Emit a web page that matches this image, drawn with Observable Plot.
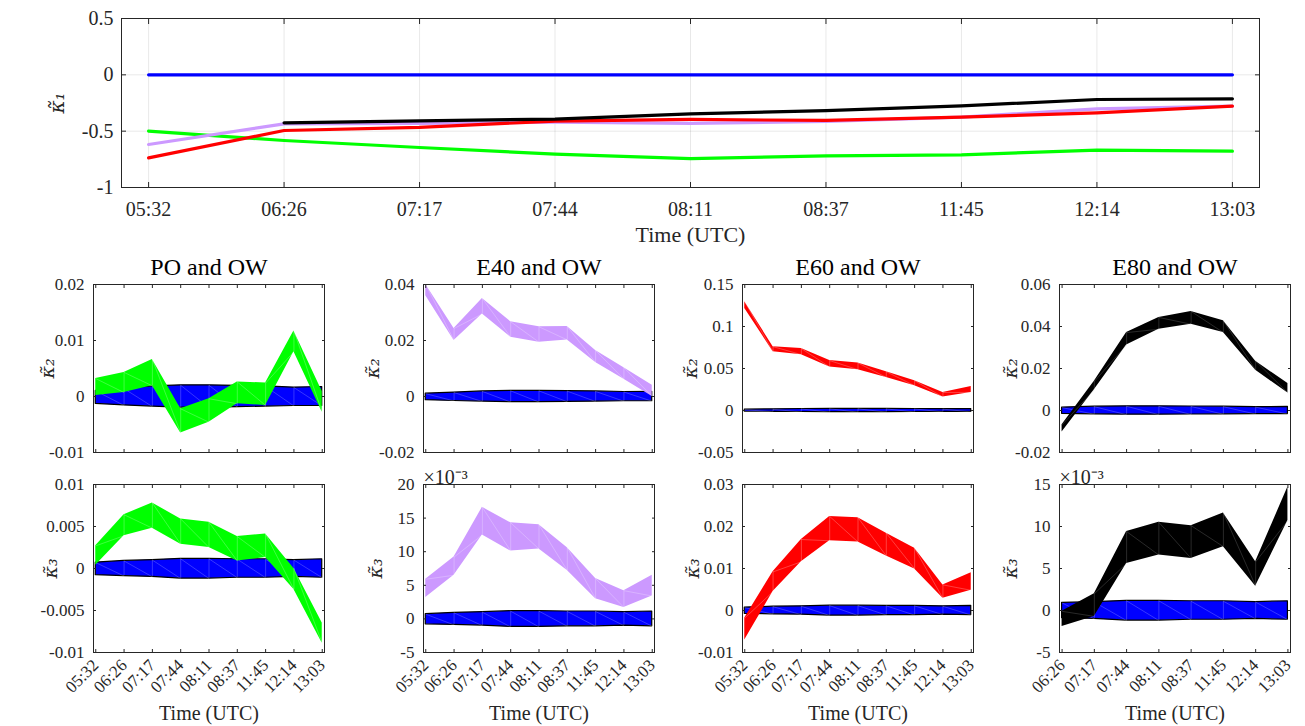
<!DOCTYPE html>
<html><head><meta charset="utf-8">
<script src="https://cdn.jsdelivr.net/npm/d3@7"></script>
<script src="https://cdn.jsdelivr.net/npm/@observablehq/plot@0.6"></script>
<style>
body{margin:0;background:#fff;}
#fig{position:relative;width:1305px;height:726px;overflow:hidden;background:#fff;}
.p{position:absolute;}
.p svg{overflow:visible;font-family:"Liberation Serif","Times New Roman",serif !important;}
.p svg text{font-family:"Liberation Serif","Times New Roman",serif !important;}
</style></head><body><div id="fig"></div>
<script>
// ---------- data ----------
const times = ["05:32","06:26","07:17","07:44","08:11","08:37","11:45","12:14","13:03"];
const timesE80 = ["06:26","07:17","07:44","08:11","08:37","11:45","12:14","13:03"];

// top panel: kappa_1
const k1Ticks = [-1, -0.5, 0, 0.5];
const k1_OW  = [0, 0, 0, 0, 0, 0, 0, 0, 0];
const k1_PO  = [-0.500, -0.583, -0.645, -0.704, -0.743, -0.719, -0.710, -0.669, -0.678];
const k1_E40 = [-0.618, -0.435, -0.430, -0.420, -0.430, -0.414, -0.376, -0.302, -0.278];
const k1_E60 = [-0.737, -0.494, -0.467, -0.410, -0.396, -0.405, -0.376, -0.337, -0.278];
const k1_E80 = [null, -0.426, -0.408, -0.393, -0.346, -0.317, -0.275, -0.219, -0.213];

// OW reference bands
const owK2Lo = [-0.0013, -0.0016, -0.0018, -0.0020, -0.0020, -0.0019, -0.0018, -0.0017, -0.0017];
const owK2Hi = [ 0.0010,  0.0014,  0.0018,  0.0020,  0.0020,  0.0019,  0.0018,  0.0016,  0.0017];
const owK3Lo = [-0.0008, -0.0009, -0.0010, -0.0012, -0.0012, -0.0011, -0.0011, -0.0010, -0.0011];
const owK3Hi = [ 0.0007,  0.0009,  0.0010,  0.00115, 0.00115, 0.0011,  0.0011,  0.0010,  0.0011];

// PO
const poK2Lo = [0.0002, 0.0007, 0.0019, -0.0065, -0.0046, -0.0013, -0.0016, 0.0080, -0.0028];
const poK2Hi = [0.0032, 0.0043, 0.0066, -0.0022, -0.0004,  0.0026,  0.0024, 0.0117,  0.0009];
const poK3Lo = [0.0004, 0.0039, 0.0048, 0.0029, 0.0025, 0.0009, 0.0013, -0.0025, -0.0089];
const poK3Hi = [0.0027, 0.0064, 0.0078, 0.0059, 0.0055, 0.0038, 0.0041,  0.0000, -0.0065];
// E40
const e40K2Lo = [0.0360, 0.0200, 0.0295, 0.0212, 0.0194, 0.0202, 0.0121, 0.0062, 0.0000];
const e40K2Hi = [0.0400, 0.0243, 0.0350, 0.0267, 0.0249, 0.0250, 0.0164, 0.0103, 0.0040];
const e40K3Lo = [0.0032, 0.0065, 0.0125, 0.0101, 0.0104, 0.0072, 0.0030, 0.0017, 0.0034];
const e40K3Hi = [0.0059, 0.0092, 0.0166, 0.0143, 0.0140, 0.0106, 0.0060, 0.0042, 0.0065];
// E60
const e60K2Lo = [0.1215, 0.0700, 0.0665, 0.0518, 0.0486, 0.0394, 0.0295, 0.0160, 0.0215];
const e60K2Hi = [0.1294, 0.0760, 0.0737, 0.0594, 0.0566, 0.0462, 0.0355, 0.0215, 0.0287];
const e60K3Lo = [-0.0070, 0.0045, 0.0116, 0.0166, 0.0163, 0.0130, 0.0099, 0.0029, 0.0048];
const e60K3Hi = [-0.0018, 0.0092, 0.0169, 0.0224, 0.0221, 0.0184, 0.0148, 0.0061, 0.0090];
// E80 (from 06:26)
const e80K2Lo = [-0.0102, 0.0099, 0.0312, 0.0387, 0.0411, 0.0371, 0.0192, 0.0083];
const e80K2Hi = [-0.0068, 0.0139, 0.0371, 0.0443, 0.0472, 0.0427, 0.0235, 0.0128];
const e80K3Lo = [-0.0019, -0.0007, 0.0056, 0.0066, 0.0062, 0.0076, 0.0029, 0.0107];
const e80K3Hi = [-0.0001,  0.0020, 0.0094, 0.0105, 0.0101, 0.0116, 0.0058, 0.0147];

// tick values
const tPOk2 = [-0.01, 0, 0.01, 0.02];
const tE40k2 = [-0.02, 0, 0.02, 0.04];
const tE60k2 = [-0.05, 0, 0.05, 0.1, 0.15];
const tE80k2 = [-0.02, 0, 0.02, 0.04, 0.06];
const tPOk3 = [-0.01, -0.005, 0, 0.005, 0.01];
const tE40k3 = [-0.005, 0, 0.005, 0.01, 0.015, 0.02];
const tE60k3 = [-0.01, 0, 0.01, 0.02, 0.03];
const tE80k3 = [-0.005, 0, 0.005, 0.01, 0.015];

const titles = ["PO and OW", "E40 and OW", "E60 and OW", "E80 and OW"];

// ---------- drawing ----------
const fig = document.getElementById("fig");
const AX = "#262626";
const fmt = d => String(+(+d).toFixed(6));
const fmtE3 = d => String(Math.round(d * 1000));
const blank = () => "";

function place(svg, left, top) {
  // kappa labels: a font with proper combining-mark placement
  svg.querySelectorAll("text").forEach(t => {
    if (t.textContent.includes("κ")) {
      t.style.setProperty("font-family", "'DejaVu Serif'", "important");
      t.style.setProperty("font-style", "italic");
    }
  });
  const d = document.createElement("div");
  d.className = "p";
  d.style.left = left + "px";
  d.style.top = top + "px";
  d.appendChild(svg);
  fig.appendChild(d);
}

// top panel
{
  const ml = 90, mr = 20, mt = 12, mb = 65, W = 1138, H = 169;
  const idx = d3.range(times.length);
  const series = [[k1_OW, "#0000ff"], [k1_PO, "#00ff00"], [k1_E40, "#cc99ff"], [k1_E60, "#ff0000"], [k1_E80, "#000000"]];
  const svg = Plot.plot({
    width: W + ml + mr, height: H + mt + mb,
    marginLeft: ml, marginRight: mr, marginTop: mt, marginBottom: mb,
    x: {domain: [-0.2, 8.2]},
    y: {domain: [-1, 0.5]},
    style: {fontSize: "20px", color: AX, background: "transparent"},
    marks: [
      Plot.gridX(idx, {x: d => d, stroke: "#000", strokeOpacity: 0.09}),
      Plot.gridY(k1Ticks, {y: d => d, stroke: "#000", strokeOpacity: 0.09}),
      ...series.map(([arr, c]) => Plot.line(idx, {x: i => i, y: i => arr[i], stroke: c, strokeWidth: 3.2})),
      Plot.frame({stroke: AX}),
      Plot.axisY(k1Ticks, {anchor: "left", tickSize: -5, tickPadding: 13, tickFormat: fmt, label: null, fontSize: 20}),
      Plot.axisY(k1Ticks, {anchor: "right", tickSize: -5, tickFormat: blank, label: null}),
      Plot.axisX(idx, {anchor: "bottom", tickSize: -5, tickPadding: 19, tickFormat: i => times[i], label: null, fontSize: 20}),
      Plot.axisX(idx, {anchor: "top", tickSize: -5, tickFormat: blank, label: null}),
      Plot.text(["κ̃₁"], {frameAnchor: "left", text: d => d, rotate: -90, textAnchor: "middle", lineAnchor: "middle", dx: -64, fontSize: 20}),
      Plot.text(["Time (UTC)"], {frameAnchor: "bottom", text: d => d, textAnchor: "middle", lineAnchor: "middle", dy: 47, fontSize: 22})
    ]
  });
  place(svg, 121 - ml, 18 - mt);
}

// small panels
const colLeft = [93, 423, 742, 1059];
const rowTop = [284, 484];
const panels = [
  {row: 0, col: 0, lo: poK2Lo, hi: poK2Hi, owLo: owK2Lo, owHi: owK2Hi, color: "#00ff00", tri: "#ffffff", yDomain: [-0.01, 0.02], ticks: tPOk2, f: fmt, ylab: "κ̃₂", ylx: -46, labels: times},
  {row: 0, col: 1, lo: e40K2Lo, hi: e40K2Hi, owLo: owK2Lo, owHi: owK2Hi, color: "#cc99ff", tri: "#ffffff", yDomain: [-0.02, 0.04], ticks: tE40k2, f: fmt, ylab: "κ̃₂", ylx: -51, labels: times},
  {row: 0, col: 2, lo: e60K2Lo, hi: e60K2Hi, owLo: owK2Lo, owHi: owK2Hi, color: "#ff0000", tri: "#ffffff", yDomain: [-0.05, 0.15], ticks: tE60k2, f: fmt, ylab: "κ̃₂", ylx: -52, labels: times},
  {row: 0, col: 3, lo: e80K2Lo, hi: e80K2Hi, owLo: owK2Lo.slice(1), owHi: owK2Hi.slice(1), color: "#000000", tri: "#aaaaaa", yDomain: [-0.02, 0.06], ticks: tE80k2, f: fmt, ylab: "κ̃₂", ylx: -49, labels: timesE80},
  {row: 1, col: 0, lo: poK3Lo, hi: poK3Hi, owLo: owK3Lo, owHi: owK3Hi, color: "#00ff00", tri: "#ffffff", yDomain: [-0.01, 0.01], ticks: tPOk3, f: fmt, ylab: "κ̃₃", ylx: -43, labels: times},
  {row: 1, col: 1, lo: e40K3Lo, hi: e40K3Hi, owLo: owK3Lo, owHi: owK3Hi, color: "#cc99ff", tri: "#ffffff", yDomain: [-0.005, 0.02], ticks: tE40k3, f: fmtE3, sci: true, ylab: "κ̃₃", ylx: -48, labels: times},
  {row: 1, col: 2, lo: e60K3Lo, hi: e60K3Hi, owLo: owK3Lo, owHi: owK3Hi, color: "#ff0000", tri: "#ffffff", yDomain: [-0.01, 0.03], ticks: tE60k3, f: fmt, ylab: "κ̃₃", ylx: -50, labels: times},
  {row: 1, col: 3, lo: e80K3Lo, hi: e80K3Hi, owLo: owK3Lo.slice(1), owHi: owK3Hi.slice(1), color: "#000000", tri: "#aaaaaa", yDomain: [-0.005, 0.015], ticks: tE80k3, f: fmtE3, sci: true, ylab: "κ̃₃", ylx: -49, labels: timesE80}
];

for (const p of panels) {
  const W = 231, H = 168;
  const ml = 75, mr = 12, mt = p.row === 0 ? 42 : 30, mb = p.row === 1 ? 90 : 12;
  const n = p.labels.length;
  const idx = d3.range(n);
  const tri = (lo, hi, stroke, op) => [
    Plot.ruleX(idx.slice(1, -1), {x: i => i, y1: i => lo[i], y2: i => hi[i], stroke, strokeOpacity: op, strokeWidth: 0.7, clip: true}),
    Plot.link(idx.slice(0, -1), {x1: i => i, y1: i => hi[i], x2: i => i + 1, y2: i => lo[i + 1], stroke, strokeOpacity: op, strokeWidth: 0.7, clip: true})
  ];
  const marks = [
    Plot.areaY(idx, {x: i => i, y1: i => p.owLo[i], y2: i => p.owHi[i], fill: "#0000ff", stroke: "#000", strokeWidth: 1.2, clip: true}),
    ...tri(p.owLo, p.owHi, "#ffffff", 0.3),
    Plot.areaY(idx, {x: i => i, y1: i => p.lo[i], y2: i => p.hi[i], fill: p.color, clip: true}),
    ...tri(p.lo, p.hi, p.tri, 0.35),
    Plot.frame({stroke: AX}),
    Plot.axisY(p.ticks, {anchor: "left", tickSize: -3, tickPadding: 12, tickFormat: p.f, label: null, fontSize: 17}),
    Plot.axisY(p.ticks, {anchor: "right", tickSize: -3, tickFormat: blank, label: null}),
    Plot.axisX(idx, {anchor: "bottom", tickSize: -3, tickPadding: p.row === 1 ? 13 : 3, tickRotate: p.row === 1 ? -45 : 0,
      tickFormat: p.row === 1 ? (i => p.labels[i]) : blank, label: null, fontSize: 17}),
    Plot.axisX(idx, {anchor: "top", tickSize: -3, tickFormat: blank, label: null}),
    Plot.text([p.ylab], {frameAnchor: "left", text: d => d, rotate: -90, textAnchor: "middle", lineAnchor: "middle", dx: p.ylx, fontSize: 19})
  ];
  if (p.row === 0) marks.push(Plot.text([titles[p.col]], {frameAnchor: "top", text: d => d, textAnchor: "middle", lineAnchor: "middle", dy: -17, fontSize: 24, fill: "#000"}));
  if (p.row === 1) marks.push(Plot.text(["Time (UTC)"], {frameAnchor: "bottom", text: d => d, textAnchor: "middle", lineAnchor: "middle", dy: 61, fontSize: 20}));
  if (p.sci) marks.push(Plot.text(["×10⁻³"], {frameAnchor: "top-left", text: d => d, textAnchor: "start", lineAnchor: "bottom", dy: -1, fontSize: 20}));
  const svg = Plot.plot({
    width: W + ml + mr, height: H + mt + mb,
    marginLeft: ml, marginRight: mr, marginTop: mt, marginBottom: mb,
    x: {domain: [-0.08, n - 1 + 0.08]},
    y: {domain: p.yDomain},
    style: {fontSize: "17px", color: AX, background: "transparent"},
    marks
  });
  place(svg, colLeft[p.col] - ml, rowTop[p.row] - mt);
}
</script>
</body></html>
